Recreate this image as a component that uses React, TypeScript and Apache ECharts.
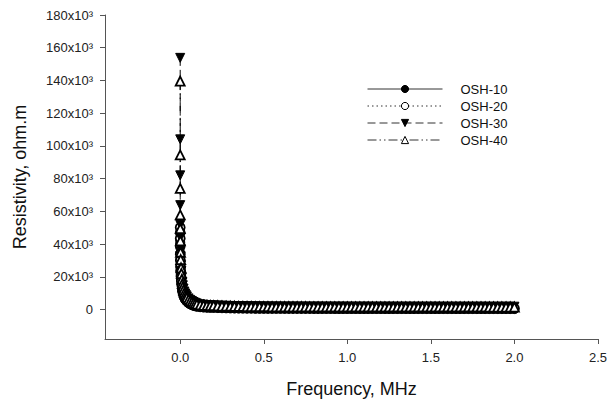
import React, { useEffect, useRef } from "react";
import * as echarts from "echarts";

const freqMHz: number[] = [
  0.00002, 0.00005, 0.0001, 0.0002, 0.0005, 0.001, 0.002, 0.003, 0.005, 0.007,
  0.01, 0.013, 0.016, 0.02, 0.025, 0.03, 0.035, 0.04, 0.05, 0.06, 0.07, 0.08, 0.09, 0.1,
  0.12, 0.14, 0.16, 0.18,
  0.2, 0.225, 0.25, 0.275, 0.3, 0.325, 0.35, 0.375, 0.4, 0.425, 0.45, 0.475, 0.5,
  0.525, 0.55, 0.575, 0.6, 0.625, 0.65, 0.675, 0.7, 0.725, 0.75,
  0.775, 0.8, 0.825, 0.85, 0.875, 0.9, 0.925, 0.95, 0.975, 1.0,
  1.025, 1.05, 1.075, 1.1, 1.125, 1.15, 1.175, 1.2, 1.225, 1.25,
  1.275, 1.3, 1.325, 1.35, 1.375, 1.4, 1.425, 1.45, 1.475, 1.5,
  1.525, 1.55, 1.575, 1.6, 1.625, 1.65, 1.675, 1.7, 1.725, 1.75,
  1.775, 1.8, 1.825, 1.85, 1.875, 1.9, 1.925, 1.95, 1.975, 2.0,
];

const osh10: number[] = [
  43000, 41000, 38000, 34500, 30500, 27000, 23500, 21000, 18000, 15800,
  13000, 11000, 9700, 8300, 7000, 6100, 5300, 4700, 3800, 3200, 2700, 2300, 2000, 1750,
  1450, 1250, 1120, 1050,
  1000, 900, 820, 750, 690, 640, 600, 565, 535, 510, 490, 470, 455,
  442, 430, 420, 410, 402, 395, 388, 382, 376, 371,
  366, 362, 358, 354, 350, 347, 344, 341, 338, 335,
  332, 330, 328, 326, 324, 322, 320, 318, 316, 314,
  312, 311, 310, 309, 308, 307, 306, 305, 304, 303,
  302, 301, 300, 299, 298, 297, 296, 295, 294, 293,
  292, 291, 290, 289, 288, 287, 286, 285, 284, 283,
];

const osh20: number[] = [
  50200, 47000, 43500, 39000, 34000, 30000, 26000, 23500, 20000, 17500,
  14500, 12400, 10900, 9400, 8000, 7000, 6200, 5500, 4500, 3800, 3250, 2800, 2450, 2200,
  1900, 1720, 1600, 1540,
  1500, 1400, 1320, 1250, 1190, 1140, 1100, 1060, 1030, 1000, 975, 955, 935,
  920, 905, 892, 880, 870, 860, 852, 845, 838, 832,
  826, 821, 816, 811, 806, 802, 798, 794, 790, 787,
  784, 781, 778, 775, 772, 770, 768, 766, 764, 762,
  760, 758, 756, 754, 752, 750, 749, 748, 747, 746,
  745, 744, 743, 742, 741, 740, 739, 738, 737, 736,
  735, 734, 733, 732, 731, 730, 729, 728, 727, 726,
];

const osh30: number[] = [
  153800, 104000, 82000, 63800, 51700, 44000, 37000, 32500, 27000, 23500,
  19500, 16800, 14800, 12800, 11000, 9800, 8800, 8000, 6800, 5900, 5200, 4600, 4100, 3700,
  3250, 2950, 2780, 2680,
  2600, 2480, 2380, 2290, 2220, 2160, 2110, 2070, 2030, 2000, 1975, 1950, 1930,
  1915, 1900, 1890, 1880, 1870, 1860, 1855, 1850, 1845, 1840,
  1835, 1830, 1825, 1820, 1815, 1812, 1810, 1806, 1803, 1800,
  1797, 1794, 1791, 1788, 1785, 1782, 1780, 1778, 1776, 1774,
  1772, 1770, 1768, 1766, 1764, 1763, 1762, 1761, 1760, 1759,
  1758, 1757, 1756, 1755, 1754, 1753, 1752, 1751, 1750, 1750,
  1749, 1748, 1747, 1746, 1745, 1745, 1744, 1743, 1742, 1742,
];

const osh40: number[] = [
  139600, 94500, 74000, 57800, 49500, 42000, 35000, 30500, 25500, 22000,
  18500, 15800, 13900, 12000, 10300, 9100, 8100, 7300, 6200, 5300, 4600, 4050, 3600, 3250,
  2850, 2600, 2470, 2400,
  2350, 2240, 2150, 2070, 2000, 1940, 1890, 1850, 1810, 1780, 1755, 1730, 1710,
  1695, 1682, 1672, 1663, 1655, 1648, 1642, 1636, 1631, 1626,
  1621, 1617, 1613, 1609, 1605, 1602, 1599, 1596, 1593, 1590,
  1587, 1584, 1582, 1580, 1578, 1576, 1574, 1572, 1570, 1568,
  1566, 1564, 1562, 1560, 1559, 1558, 1557, 1556, 1555, 1554,
  1553, 1552, 1551, 1550, 1549, 1548, 1547, 1546, 1545, 1544,
  1543, 1542, 1541, 1540, 1539, 1538, 1537, 1536, 1535, 1534,
];

const seriesNames: string[] = ["OSH-10", "OSH-20", "OSH-30", "OSH-40"];
const xTicks: number[] = [0, 0.5, 1.0, 1.5, 2.0, 2.5];
const yTicks: number[] = [0, 20000, 40000, 60000, 80000, 100000, 120000, 140000, 160000, 180000];

const FONT = "'Liberation Sans', Arial, sans-serif";

export default function App() {
  const ref = useRef<HTMLDivElement>(null);
  useEffect(() => {
    if (!ref.current) return;
    const chart = echarts.init(ref.current, undefined, { renderer: "svg" });
    const values = [osh10, osh20, osh30, osh40];
    const styles: any[] = [
      { symbol: "circle", rotate: 0, fill: "#000", dash: "solid", bw: 1 },
      { symbol: "circle", rotate: 0, fill: "#fff", dash: [1.5, 3], bw: 1.8 },
      { symbol: "triangle", rotate: 180, fill: "#000", dash: [8, 4], bw: 1 },
      { symbol: "triangle", rotate: 0, fill: "#fff", dash: [9, 3, 1.5, 3, 1.5, 3], bw: 1.8 },
    ];
    const series = seriesNames.map((name, k) => ({
      name,
      type: "line",
      data: freqMHz.map((f, i) => [f, values[k][i]]),
      symbol: styles[k].symbol,
      symbolRotate: styles[k].rotate,
      symbolSize: 9,
      showAllSymbol: true,
      itemStyle: { color: styles[k].fill, borderColor: "#000", borderWidth: styles[k].bw },
      lineStyle: { color: "#000", width: 1, type: styles[k].dash },
      emphasis: { disabled: true },
    }));
    chart.setOption({
      animation: false,
      backgroundColor: "#fff",
      textStyle: { fontFamily: FONT },
      grid: { left: 105, right: 8, top: 15, bottom: 61, containLabel: false },
      legend: {
        orient: "vertical",
        left: 362,
        top: 77,
        itemWidth: 75,
        itemHeight: 9,
        itemGap: 3,
        data: seriesNames,
        itemStyle: { borderWidth: 1 },
        lineStyle: { width: 1, color: "#333" },
        textStyle: { fontSize: 13, color: "#111", fontFamily: FONT, padding: [0, 0, 0, 13], lineHeight: 14 },
        selectedMode: false,
      },
      xAxis: {
        type: "value",
        min: -0.45,
        max: 2.5,
        name: "Frequency, MHz",
        nameLocation: "middle",
        nameGap: 41,
        nameTextStyle: { fontSize: 18, color: "#111", fontFamily: FONT },
        axisLine: { show: true, onZero: false, lineStyle: { color: "#555", width: 1 } },
        axisTick: { show: true, length: 5, inside: false, customValues: xTicks, lineStyle: { color: "#555" } },
        axisLabel: {
          customValues: xTicks,
          fontSize: 13,
          color: "#222",
          margin: 12,
          formatter: (v: number) => v.toFixed(1),
        },
        splitLine: { show: false },
      },
      yAxis: {
        type: "value",
        min: -18000,
        max: 180000,
        name: "Resistivity, ohm.m",
        nameLocation: "middle",
        nameGap: 76,
        nameTextStyle: { fontSize: 18, color: "#111", fontFamily: FONT },
        axisLine: { show: true, onZero: false, lineStyle: { color: "#555", width: 1 } },
        axisTick: { show: true, length: 5, inside: false, customValues: yTicks, lineStyle: { color: "#555" } },
        axisLabel: {
          customValues: yTicks,
          fontSize: 13,
          color: "#222",
          margin: 12,
          formatter: (v: number) => (v === 0 ? "0" : `${Math.round(v / 1000)}x10³`),
        },
        splitLine: { show: false },
      },
      series,
    });
    return () => chart.dispose();
  }, []);
  return <div ref={ref} style={{ width: 610, height: 403, position: "absolute", left: 0, top: 0 }} />;
}
